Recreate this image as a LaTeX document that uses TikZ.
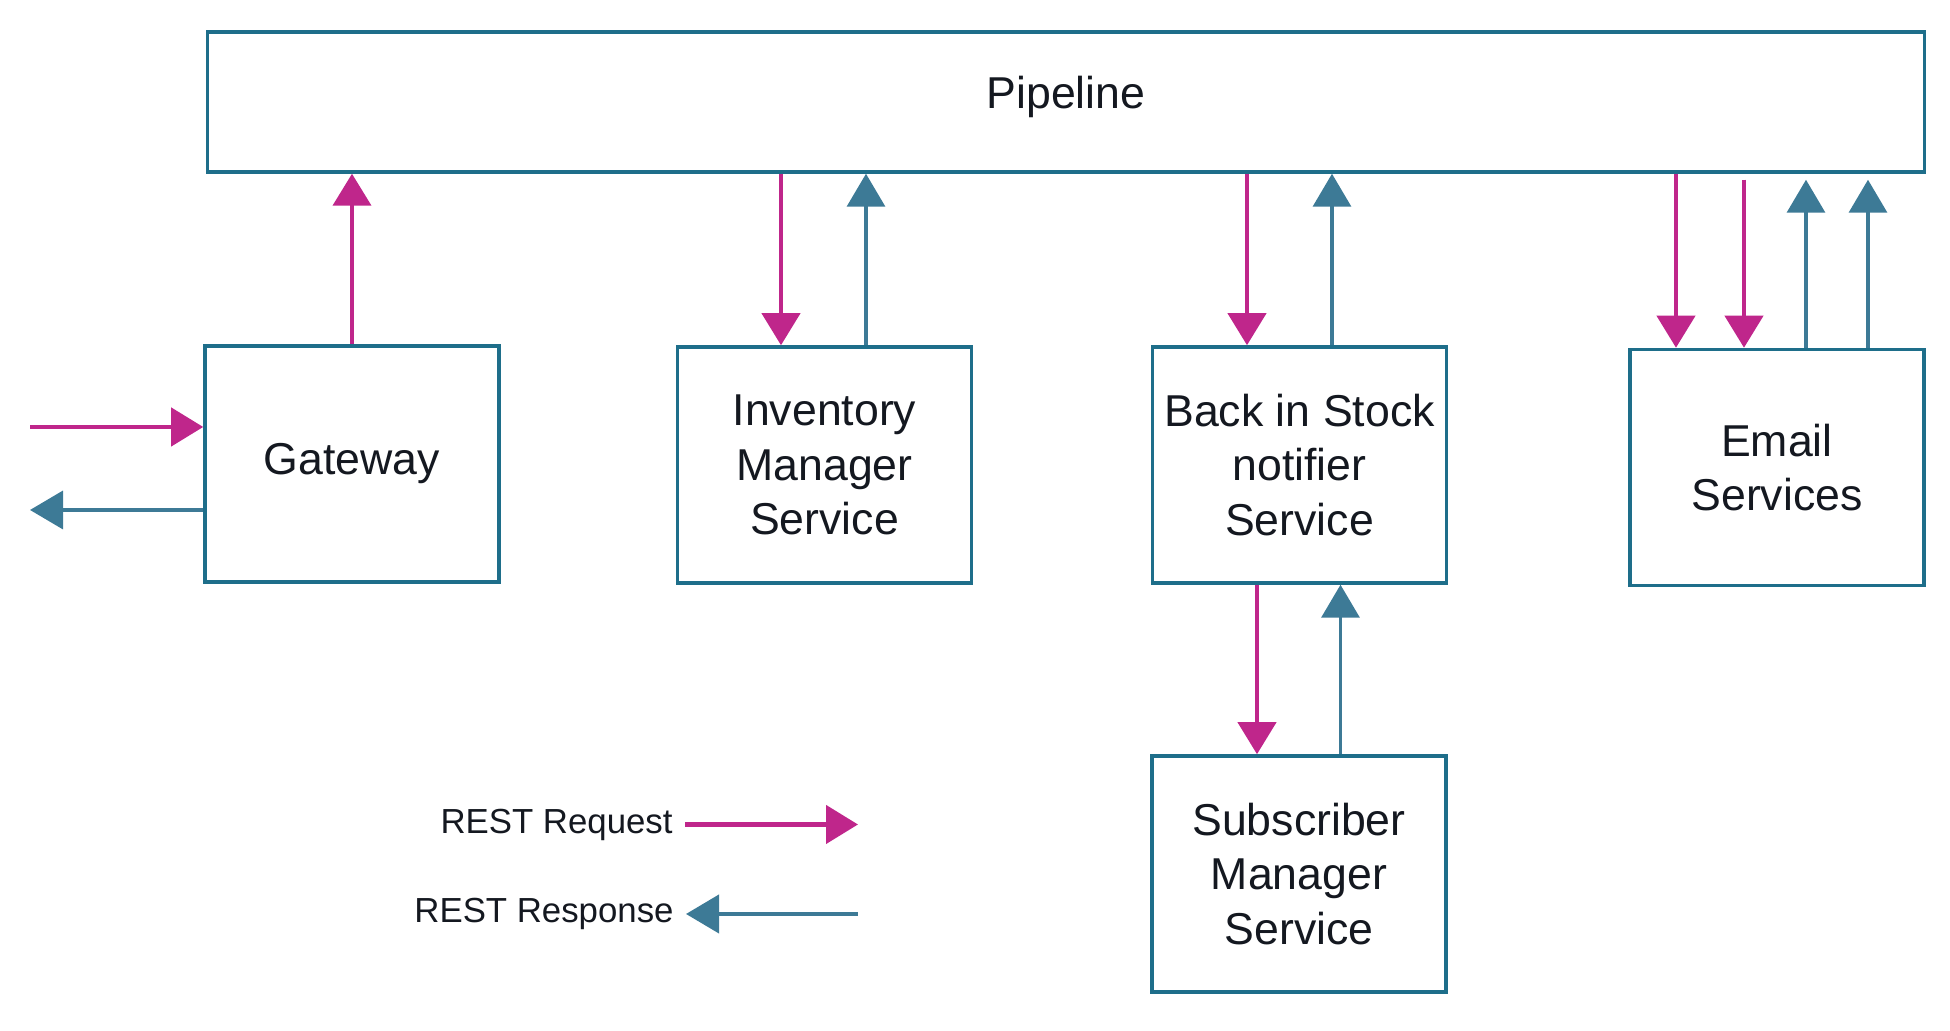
\documentclass[tikz,border=0pt]{standalone}
\usepackage{fontspec}
\setmainfont{Liberation Sans}
\usetikzlibrary{arrows.meta}
\definecolor{boxblue}{RGB}{30,110,138}
\definecolor{reqpink}{RGB}{191,38,139}
\definecolor{respblue}{RGB}{61,122,150}
\definecolor{txt}{RGB}{20,24,32}
\begin{document}
\begin{tikzpicture}[
    box/.style={draw=boxblue, line width=1pt, minimum width=2.94cm, minimum height=2.36cm, inner sep=1pt, align=center, text=txt, font=\fontsize{12.7}{15.6}\selectfont},
    req/.style={draw=reqpink, line width=1.2pt, -{Triangle[length=3.2mm,width=3.8mm]}, reqpink},
    resp/.style={draw=respblue, line width=1pt, -{Triangle[length=3.3mm,width=3.8mm]}, respblue},
    legend/.style={anchor=east, text=txt, font=\fontsize{9.9}{12}\selectfont}
]
\useasboundingbox (0,0) rectangle (19.5,10.31);
\node[box, minimum width=17.17cm, minimum height=1.40cm, text depth=5.3pt] (pipe) at (10.66,9.29) {Pipeline};
\foreach \name/\x/\y/\xtext in {gw/3.52/5.67/Gateway, inv/8.245/5.66/Inventory\\Manager\\Service, back/12.995/5.66/Back in Stock\\notifier\\Service, email/17.77/5.635/Email\\Services, sub/12.99/1.57/Subscriber\\Manager\\Service}
{
    \node[box] (\name) at (\x,\y){\xtext};
}

\draw[req] (gw.north) -- (gw.north |- pipe.south);
\foreach \name/\dx/\gap in {inv/-0.435/0, back/-0.525/0, email/-1.01/0, email/-0.33/0.6}
{
    \draw[req, shorten <=\gap mm] ([xshift=\dx cm]\name.north |- pipe.south) -- ([xshift=\dx cm]\name.north);
}
\foreach \name/\dx/\gap in {inv/0.415/0, back/0.325/0, email/0.29/0.6, email/0.91/0.6}
{
    \draw[resp, shorten >=\gap mm] ([xshift=\dx cm]\name.north) -- ([xshift=\dx cm]\name.north |- pipe.south);
}
\draw[req] ([xshift=-4.25mm]back.south) -- ([xshift=-4.25mm]back.south |- sub.north);
\draw[resp] ([xshift=4.15mm]sub.north) -- ([xshift=4.15mm]sub.north |- back.south);

\coordinate (in) at (0.30,6.04);
\coordinate (out) at (0.30,5.21);
\draw[req] (in) -- (in -| gw.west);
\draw[resp] (out -| gw.west) -- (out);

\node[legend] (reqlabel) at (6.85,2.065) {REST Request};
\node[legend] (resplabel) at (6.86,1.17) {REST Response};
\coordinate (reqend) at (8.58,2.065);
\coordinate (respend) at (8.58,1.17);
\draw[req, line width=1.3pt] (reqlabel.east) -- (reqend);
\draw[resp, line width=1.2pt] (respend) -- (resplabel.east);
\end{tikzpicture}
\end{document}
